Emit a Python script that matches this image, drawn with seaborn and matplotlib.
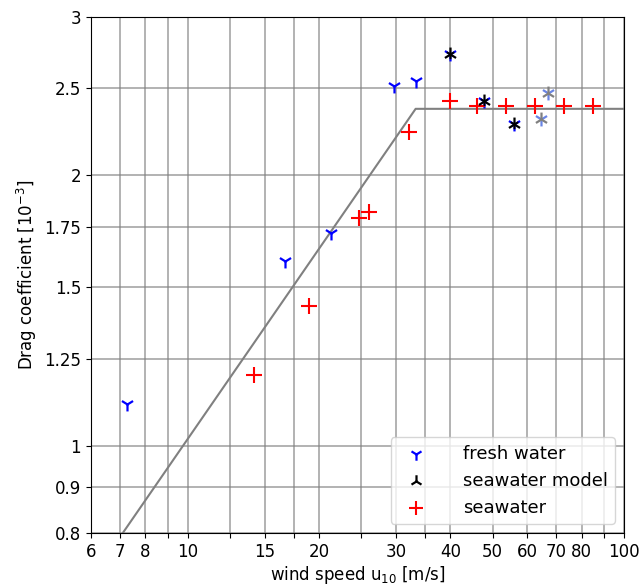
import matplotlib
matplotlib.use("Agg")
import matplotlib.pyplot as plt
import seaborn as sns
import numpy as np
import pandas as pd
from matplotlib.ticker import FixedLocator, FixedFormatter, NullLocator

# ---- data ----
fresh_u = [7.25, 16.7, 21.3, 29.7, 33.4, 40.0, 47.8, 56.0]
fresh_cd = [1.113, 1.605, 1.725, 2.51, 2.545, 2.73, 2.42, 2.28]

model_u = [40.0, 47.8, 56.0]
model_cd = [2.73, 2.42, 2.28]

faded_u = [67.0, 64.6]
faded_cd = [2.47, 2.31]

sea_u = [14.2, 19.0, 24.7, 26.0, 32.2, 40.0, 46.0, 53.7, 62.5, 72.9, 85.0]
sea_cd = [1.199, 1.43, 1.792, 1.82, 2.234, 2.42, 2.39, 2.39, 2.39, 2.39, 2.39]

line_u = [7.1, 33.3, 100.0]
line_cd = [0.8, 2.37, 2.37]

xticks = [6, 7, 8, 9, 10, 12.5, 15, 17.5, 20, 25, 30, 35, 40, 50, 60, 70, 80, 90, 100]
xlabels = ["6", "7", "8", "", "10", "", "15", "", "20", "", "30", "", "40", "50", "60", "70", "80", "", "100"]
yticks = [0.8, 0.9, 1, 1.25, 1.5, 1.75, 2, 2.5, 3]
ylabels = ["0.8", "0.9", "1", "1.25", "1.5", "1.75", "2", "2.5", "3"]

plt.rcParams['font.family'] = ['DejaVu Sans']
plt.rcParams['font.size'] = 12

fig = plt.figure(figsize=(6.4, 5.84), dpi=100)
ax = fig.add_axes([0.142, 0.0873, 0.833, 0.884])

sns.lineplot(x=line_u, y=line_cd, ax=ax, color='gray', linewidth=1.5, sort=False, estimator=None)

sns.scatterplot(x=fresh_u, y=fresh_cd, ax=ax, marker='1', color='blue', s=100, linewidth=1.6,
                label='fresh water', zorder=3)
sns.scatterplot(x=faded_u, y=faded_cd, ax=ax, marker='1', color='#4466dd', s=100, linewidth=1.6,
                alpha=0.8, zorder=3)
sns.scatterplot(x=model_u, y=model_cd, ax=ax, marker='2', color='black', s=100, linewidth=1.6,
                label='seawater model', zorder=4)
sns.scatterplot(x=model_u, y=model_cd, ax=ax, marker='1', color='black', s=45, linewidth=1.4,
                zorder=4)
sns.scatterplot(x=faded_u, y=faded_cd, ax=ax, marker='2', color='gray', s=100, linewidth=1.6,
                zorder=4)
sns.scatterplot(x=sea_u, y=sea_cd, ax=ax, marker='+', color='red', s=130, linewidth=1.5,
                label='seawater', zorder=3)

ax.set_xscale('log')
ax.set_yscale('log')
ax.set_xlim(6, 100)
ax.set_ylim(0.8, 3)
ax.xaxis.set_major_locator(FixedLocator(xticks))
ax.xaxis.set_major_formatter(FixedFormatter(xlabels))
ax.xaxis.set_minor_locator(NullLocator())
ax.yaxis.set_major_locator(FixedLocator(yticks))
ax.yaxis.set_major_formatter(FixedFormatter(ylabels))
ax.yaxis.set_minor_locator(NullLocator())
ax.grid(True, which='major', color='gray', alpha=0.7, linewidth=1.2)
ax.set_axisbelow(True)

ax.set_xlabel('wind speed u$_{10}$ [m/s]', labelpad=2)
ax.set_ylabel('Drag coefficient [$10^{-3}$]')

ax.legend(loc='lower right', fontsize=13, markerscale=0.9, handletextpad=1.6)

fig.savefig('out.png', dpi=100)
